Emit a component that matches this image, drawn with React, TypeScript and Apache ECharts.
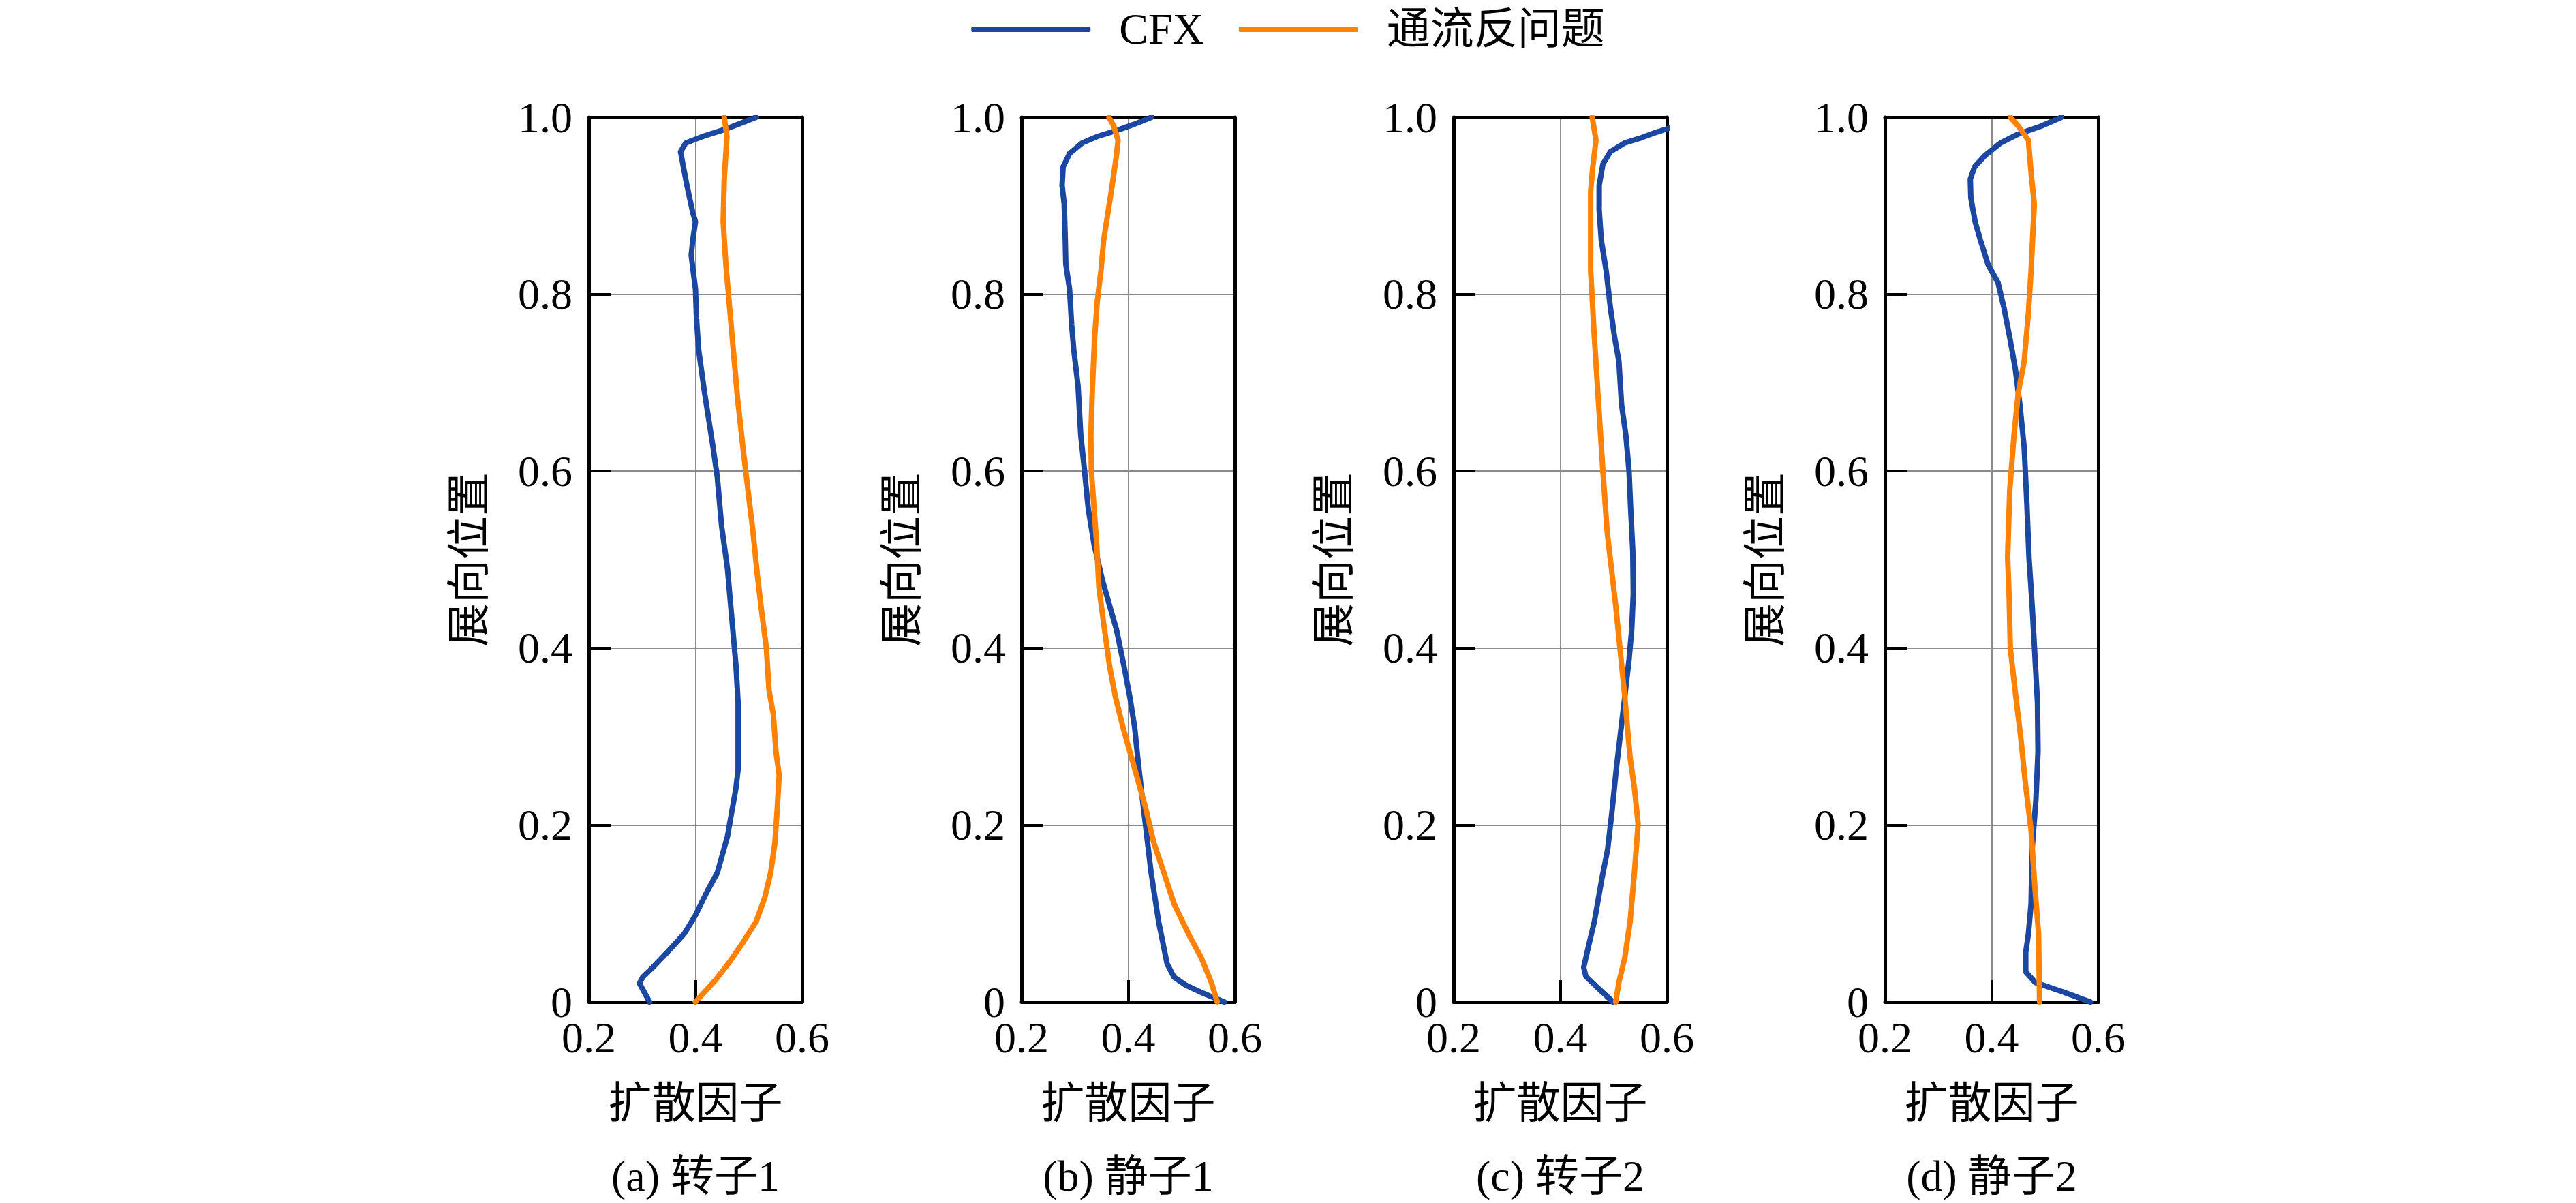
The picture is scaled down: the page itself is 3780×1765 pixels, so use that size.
import React, { useEffect, useRef } from "react";
import * as echarts from "echarts";

// panel captions
const panelTitles = ["(a) 转子1", "(b) 静子1", "(c) 转子2", "(d) 静子2"];
const seriesNames = ["CFX", "通流反问题"];
const yTicks = ["0", "0.2", "0.4", "0.6", "0.8", "1.0"];
const xTicks = ["0.2", "0.4", "0.6"];

// [扩散因子, 展向位置]
const cfxA = [
  [0.514, 1.0], [0.454, 0.986], [0.417, 0.979], [0.382, 0.971], [0.372, 0.961],
  [0.384, 0.923], [0.395, 0.892], [0.4, 0.882], [0.395, 0.861], [0.392, 0.844],
  [0.4, 0.806], [0.402, 0.772], [0.406, 0.737], [0.417, 0.689], [0.433, 0.627],
  [0.441, 0.593], [0.449, 0.538], [0.46, 0.49], [0.468, 0.435], [0.476, 0.38],
  [0.48, 0.338], [0.48, 0.263], [0.476, 0.242], [0.46, 0.187], [0.441, 0.146],
  [0.422, 0.125], [0.4, 0.098], [0.379, 0.077], [0.347, 0.056], [0.32, 0.039],
  [0.301, 0.028], [0.295, 0.021], [0.314, 0.0],
];
const invA = [
  [0.454, 1.0], [0.459, 0.978], [0.454, 0.93], [0.452, 0.882], [0.457, 0.834],
  [0.463, 0.792], [0.471, 0.737], [0.479, 0.682], [0.489, 0.627], [0.497, 0.586],
  [0.508, 0.531], [0.516, 0.483], [0.524, 0.442], [0.533, 0.4], [0.538, 0.352],
  [0.546, 0.325], [0.551, 0.283], [0.557, 0.256], [0.553, 0.215], [0.549, 0.18],
  [0.541, 0.146], [0.53, 0.118], [0.514, 0.091], [0.492, 0.07], [0.465, 0.046],
  [0.438, 0.025], [0.4, 0.0],
];
const cfxB = [
  [0.444, 1.0], [0.411, 0.992], [0.378, 0.985], [0.341, 0.978], [0.314, 0.971],
  [0.29, 0.959], [0.278, 0.944], [0.276, 0.923], [0.28, 0.902], [0.282, 0.861],
  [0.283, 0.834], [0.29, 0.806], [0.294, 0.765], [0.298, 0.737], [0.306, 0.696],
  [0.311, 0.641], [0.317, 0.607], [0.325, 0.558], [0.336, 0.517], [0.352, 0.476],
  [0.368, 0.442], [0.378, 0.421], [0.392, 0.38], [0.403, 0.345], [0.412, 0.311],
  [0.419, 0.27], [0.427, 0.228], [0.435, 0.187], [0.443, 0.146], [0.457, 0.091],
  [0.473, 0.043], [0.486, 0.028], [0.508, 0.019], [0.54, 0.01], [0.58, 0.0],
];
const invB = [
  [0.364, 1.0], [0.373, 0.99], [0.381, 0.974], [0.378, 0.957], [0.37, 0.923],
  [0.362, 0.892], [0.354, 0.861], [0.349, 0.827], [0.342, 0.792], [0.337, 0.751],
  [0.333, 0.696], [0.33, 0.641], [0.331, 0.6], [0.336, 0.558], [0.341, 0.517],
  [0.345, 0.469], [0.354, 0.428], [0.365, 0.38], [0.376, 0.345], [0.39, 0.311],
  [0.403, 0.283], [0.419, 0.249], [0.432, 0.221], [0.448, 0.18], [0.467, 0.146],
  [0.486, 0.111], [0.513, 0.077], [0.537, 0.05], [0.556, 0.022], [0.567, 0.0],
];
const cfxC = [
  [0.617, 0.99], [0.58, 0.983], [0.548, 0.976], [0.521, 0.971], [0.494, 0.961],
  [0.48, 0.947], [0.473, 0.923], [0.473, 0.895], [0.477, 0.861], [0.486, 0.827],
  [0.494, 0.785], [0.502, 0.751], [0.51, 0.724], [0.515, 0.675], [0.523, 0.641],
  [0.529, 0.6], [0.532, 0.558], [0.536, 0.51], [0.537, 0.462], [0.534, 0.421],
  [0.529, 0.387], [0.521, 0.345], [0.513, 0.304], [0.505, 0.263], [0.497, 0.215],
  [0.489, 0.173], [0.478, 0.139], [0.464, 0.091], [0.453, 0.063], [0.444, 0.039],
  [0.448, 0.029], [0.472, 0.015], [0.499, 0.0],
];
const invC = [
  [0.46, 1.0], [0.467, 0.974], [0.461, 0.944], [0.457, 0.916], [0.457, 0.827],
  [0.464, 0.751], [0.472, 0.675], [0.48, 0.6], [0.488, 0.531], [0.496, 0.49],
  [0.504, 0.448], [0.512, 0.4], [0.521, 0.345], [0.531, 0.276], [0.539, 0.242],
  [0.546, 0.201], [0.539, 0.146], [0.531, 0.091], [0.521, 0.05], [0.51, 0.022],
  [0.504, 0.0],
];
const cfxD = [
  [0.531, 1.0], [0.493, 0.99], [0.45, 0.981], [0.417, 0.971], [0.388, 0.957],
  [0.368, 0.944], [0.36, 0.93], [0.361, 0.909], [0.369, 0.882], [0.379, 0.861],
  [0.393, 0.834], [0.412, 0.813], [0.423, 0.785], [0.434, 0.751], [0.444, 0.717],
  [0.453, 0.675], [0.461, 0.627], [0.466, 0.565], [0.47, 0.503], [0.476, 0.448],
  [0.481, 0.393], [0.486, 0.338], [0.487, 0.283], [0.483, 0.228], [0.476, 0.173],
  [0.474, 0.111], [0.469, 0.077], [0.464, 0.056], [0.464, 0.034], [0.482, 0.022],
  [0.531, 0.012], [0.585, 0.0],
];
const invD = [
  [0.435, 1.0], [0.45, 0.99], [0.469, 0.974], [0.474, 0.937], [0.48, 0.902],
  [0.474, 0.827], [0.469, 0.779], [0.461, 0.724], [0.45, 0.689], [0.442, 0.641],
  [0.434, 0.579], [0.43, 0.503], [0.433, 0.455], [0.435, 0.4], [0.444, 0.352],
  [0.455, 0.297], [0.463, 0.249], [0.474, 0.194], [0.48, 0.139], [0.488, 0.077],
  [0.49, 0.0],
];

const cfxData = [cfxA, cfxB, cfxC, cfxD];
const invData = [invA, invB, invC, invD];

const serif = "'Liberation Serif', 'Times New Roman', 'Noto Sans CJK SC', serif";
const blue = "#1c47a0";
const orange = "#ff8205";

const App = () => {
  const chartRef = useRef(null);

  useEffect(() => {
    if (chartRef.current === null) return;
    const myChart = echarts.init(chartRef.current, null, { renderer: "svg" });

    const lefts = [864, 1499, 2133, 2766];
    const plotW = 313;
    const top = 172;
    const plotH = 1298;

    const grids = [];
    const xAxes = [];
    const yAxes = [];
    const series = [];
    const graphics = [];

    lefts.forEach((left, i) => {
      grids.push({ left, top, width: plotW, height: plotH, show: false });
      // bottom x axis
      xAxes.push({
        gridIndex: i,
        type: "value",
        min: 0.2,
        max: 0.6,
        interval: 0.2,
        position: "bottom",
        name: "扩散因子",
        nameLocation: "middle",
        nameGap: 116,
        nameTextStyle: { fontSize: 64, color: "#000", fontFamily: serif },
        axisLine: { show: true, onZero: false, lineStyle: { color: "#000", width: 5 } },
        axisTick: { show: true, inside: true, length: 32, lineStyle: { color: "#000", width: 4 } },
        axisLabel: {
          fontSize: 64,
          lineHeight: 44,
          color: "#000",
          fontFamily: serif,
          margin: 30,
          formatter: (v: number) => xTicks[Math.round((v - 0.2) / 0.2)] ?? "",
        },
        splitLine: { show: true, lineStyle: { color: "#8c8c8c", width: 2 } },
      });
      // top frame
      xAxes.push({
        gridIndex: i,
        type: "value",
        min: 0.2,
        max: 0.6,
        position: "top",
        axisLine: { show: true, onZero: false, lineStyle: { color: "#000", width: 5 } },
        axisTick: { show: false },
        axisLabel: { show: false },
        splitLine: { show: false },
      });
      // left y axis
      yAxes.push({
        gridIndex: i,
        type: "value",
        min: 0,
        max: 1,
        interval: 0.2,
        position: "left",
        name: "展向位置",
        nameLocation: "middle",
        nameRotate: 90,
        nameGap: 144,
        nameTextStyle: { fontSize: 64, color: "#000", fontFamily: serif },
        axisLine: { show: true, onZero: false, lineStyle: { color: "#000", width: 5 } },
        axisTick: { show: true, inside: true, length: 32, lineStyle: { color: "#000", width: 4 } },
        axisLabel: {
          fontSize: 64,
          lineHeight: 40,
          color: "#000",
          fontFamily: serif,
          margin: 24,
          formatter: (v: number) => yTicks[Math.round(v / 0.2)] ?? "",
        },
        splitLine: { show: true, lineStyle: { color: "#8c8c8c", width: 2 } },
      });
      // right frame
      yAxes.push({
        gridIndex: i,
        type: "value",
        min: 0,
        max: 1,
        position: "right",
        axisLine: { show: true, onZero: false, lineStyle: { color: "#000", width: 5 } },
        axisTick: { show: false },
        axisLabel: { show: false },
        splitLine: { show: false },
      });

      series.push({
        name: seriesNames[0],
        type: "line",
        xAxisIndex: 2 * i,
        yAxisIndex: 2 * i,
        data: cfxData[i],
        symbol: "none",
        clip: false,
        lineStyle: { color: blue, width: 8, cap: "round", join: "round" },
        itemStyle: { color: blue },
        z: 3,
      });
      series.push({
        name: seriesNames[1],
        type: "line",
        xAxisIndex: 2 * i,
        yAxisIndex: 2 * i,
        data: invData[i],
        symbol: "none",
        clip: false,
        lineStyle: { color: orange, width: 8, cap: "round", join: "round" },
        itemStyle: { color: orange },
        z: 4,
      });

      graphics.push({
        type: "text",
        x: left + plotW / 2,
        y: 1725,
        style: {
          text: panelTitles[i],
          fontSize: 64,
          fontFamily: serif,
          fill: "#000",
          textAlign: "center",
          textVerticalAlign: "middle",
        },
      });
    });

    const option = {
      animation: false,
      backgroundColor: "#fff",
      legend: {
        data: seriesNames,
        top: 6,
        left: "center",
        icon: "roundRect",
        itemWidth: 175,
        itemHeight: 8,
        itemGap: 51,
        textStyle: { fontSize: 64, color: "#000", fontFamily: serif, padding: [0, 0, 0, 37] },
      },
      grid: grids,
      xAxis: xAxes,
      yAxis: yAxes,
      series,
      graphic: graphics,
    };

    myChart.setOption(option);

    return () => {
      myChart.dispose();
    };
  }, []);

  return (
    <div
      ref={chartRef}
      style={{ position: "fixed", left: 0, top: 0, width: "100vw", height: "100vh" }}
    ></div>
  );
};

export default App;
